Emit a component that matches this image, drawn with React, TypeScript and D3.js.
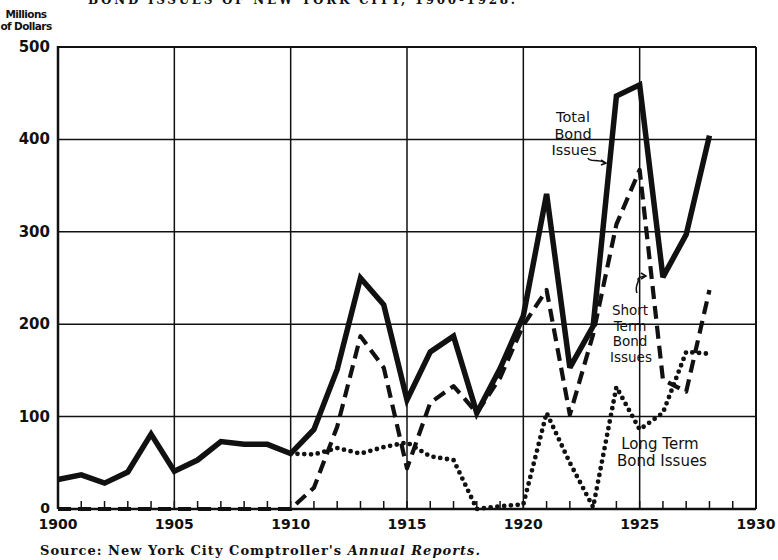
import React from "react";
import * as d3 from "d3";

const years = d3.range(1900, 1929);
const totalIssues = [32, 37, 28, 40, 81, 41, 53, 73, 70, 70, 60, 86, 151, 250, 221, 118, 170, 187, 104, 152, 209, 341, 153, 198, 447, 459, 251, 297, 404];
const shortTermIssues = [0, 0, 0, 0, 0, 0, 0, 0, 0, 0, 0, 23, 89, 187, 153, 44, 115, 133, 104, 142, 199, 237, 102, 189, 308, 367, 140, 127, 237];
const longTermIssues: (number | null)[] = [null, null, null, null, null, null, null, null, null, null, 60, 59, 66, 60, 67, 72, 57, 53, 0, 3, 5, 104, 50, 2, 132, 86, 104, 170, 168];
const yTicks = [0, 100, 200, 300, 400, 500];
const xTicks = [1900, 1905, 1910, 1915, 1920, 1925, 1930];
const yearTicks = d3.range(1901, 1930);

const W = 778;
const H = 560;
const x = d3.scaleLinear().domain([1900, 1930]).range([58, 756]);
const y = d3.scaleLinear().domain([0, 500]).range([509, 47]);

const sans = "'DejaVu Sans', Verdana, sans-serif";
const serif = "'DejaVu Serif', 'Liberation Serif', serif";

function linePath(vals: (number | null)[]) {
  const g = d3
    .line<number | null>()
    .defined((v) => v !== null)
    .x((_, i) => x(years[i]))
    .y((v) => y(v as number))
    .curve(d3.curveLinear);
  return g(vals) || "";
}

export default function App() {
  return (
    <svg width={W} height={H} viewBox={`0 0 ${W} ${H}`} style={{ display: "block", position: "absolute", left: 0, top: 0, background: "#fff" }}>
      <rect x={0} y={0} width={W} height={H} fill="#fff" />
      {/* title, cut off at the top edge as in the source */}
      <text x={88} y={4} fontFamily={serif} fontSize={12} fontWeight="bold" textLength={427} lengthAdjust="spacing" fill="#111">
        BOND ISSUES OF NEW YORK CITY, 1900-1928.
      </text>

      {/* y axis title */}
      <text x={26} y={18} textAnchor="middle" fontFamily={sans} fontSize={10.5} fontWeight="bold" letterSpacing={-0.6} fill="#111">Millions</text>
      <text x={26} y={30} textAnchor="middle" fontFamily={sans} fontSize={10.5} fontWeight="bold" letterSpacing={-0.6} fill="#111">of Dollars</text>

      {/* grid */}
      {yTicks.filter((t) => t > 0).map((t) => (
        <line key={"h" + t} x1={x(1900)} x2={x(1930)} y1={y(t)} y2={y(t)} stroke="#111" strokeWidth={t === 500 ? 2 : 1.5} />
      ))}
      {xTicks.filter((t) => t > 1900).map((t) => (
        <line key={"v" + t} x1={x(t)} x2={x(t)} y1={y(0)} y2={y(500)} stroke="#111" strokeWidth={t === 1930 ? 2 : 1.5} />
      ))}
      {/* left axis & baseline */}
      <line x1={x(1900)} x2={x(1900)} y1={y(0)} y2={y(500) - 1} stroke="#111" strokeWidth={2.5} />
      <line x1={x(1900)} x2={x(1930)} y1={y(0)} y2={y(0)} stroke="#111" strokeWidth={2.5} />
      {/* year ticks */}
      {yearTicks.map((t) => (
        <line key={"t" + t} x1={x(t)} x2={x(t)} y1={y(0)} y2={y(0) - 8} stroke="#111" strokeWidth={1.5} />
      ))}

      {/* y labels */}
      {yTicks.map((t) => (
        <text key={"yl" + t} x={50} y={y(t) + (t === 0 ? 3.5 : 5)} textAnchor="end" fontFamily={sans} fontSize={t === 0 ? 14 : 15} fontWeight="bold" fill="#111">{t}</text>
      ))}
      {/* x labels */}
      {xTicks.map((t) => (
        <text key={"xl" + t} x={x(t)} y={529} textAnchor="middle" fontFamily={sans} fontSize={14} fontWeight="bold" fill="#111">{t}</text>
      ))}

      {/* series */}
      <path d={linePath(longTermIssues)} fill="none" stroke="#111" strokeWidth={4.8} strokeDasharray="0 6.8" strokeLinecap="round" strokeLinejoin="round" />
      <path d={linePath(shortTermIssues)} fill="none" stroke="#111" strokeWidth={4.2} strokeDasharray="13 7" strokeLinejoin="round" />
      <path d={linePath(totalIssues)} fill="none" stroke="#111" strokeWidth={5.5} strokeLinejoin="miter" strokeMiterlimit={3} />

      {/* annotations */}
      <g fontFamily={sans} fontSize={14.5} fill="#111" textAnchor="middle">
        <text x={573} y={122}>Total</text>
        <text x={573} y={138.5}>Bond</text>
        <text x={574} y={155}>Issues</text>
      </g>
      <g fontFamily={sans} fontSize={13.5} fill="#111" textAnchor="middle">
        <text x={630} y={315}>Short</text>
        <text x={630} y={330.5}>Term</text>
        <text x={630} y={346}>Bond</text>
        <text x={631} y={361.5}>Issues</text>
      </g>
      <g fontFamily={sans} fontSize={15} fill="#111" textAnchor="middle">
        <text x={660} y={449}>Long Term</text>
        <text x={662} y={466}>Bond Issues</text>
      </g>
      <path d="M588,158 C590,163 598,158 605,163" fill="none" stroke="#111" strokeWidth={1.5} />
      <path d="M601,160 L606,163 L601,165" fill="none" stroke="#111" strokeWidth={1.5} />
      <path d="M637,293 C634,285 640,282 638,279 C640,276 643,277 645,276" fill="none" stroke="#111" strokeWidth={1.5} />
      <path d="M641,273 L646,276 L641,279" fill="none" stroke="#111" strokeWidth={1.5} />

      {/* source */}
      <text x={40} y={555} fontFamily={serif} fontSize={13} fontWeight="bold" fill="#111" textLength={440} lengthAdjust="spacing">
        Source: New York City Comptroller's <tspan fontStyle="italic">Annual Reports.</tspan>
      </text>
    </svg>
  );
}
